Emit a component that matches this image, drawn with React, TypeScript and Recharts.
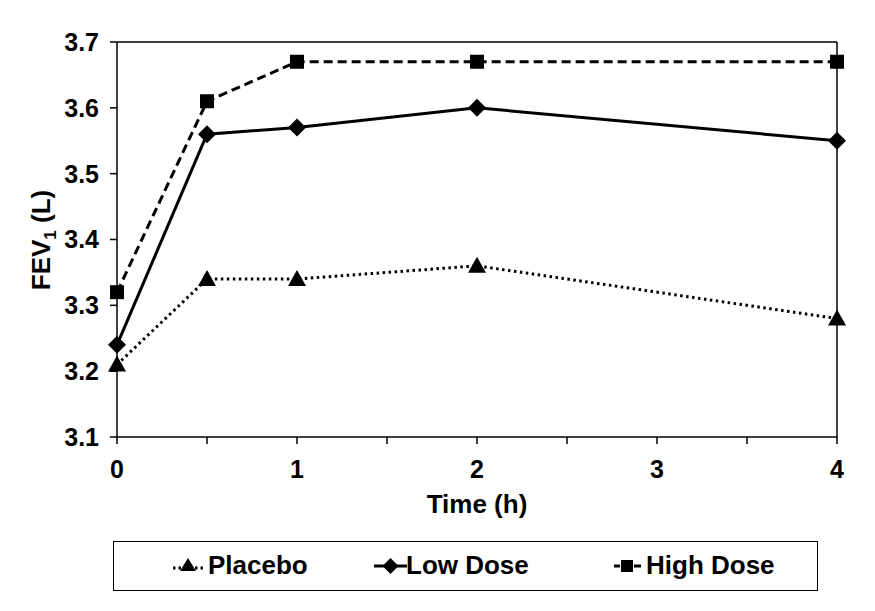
import React from 'react';
import { LineChart, Line, XAxis, YAxis, ReferenceLine, Legend } from 'recharts';

const times = [0, 0.5, 1, 2, 4];
const placebo = [3.21, 3.34, 3.34, 3.36, 3.28];
const lowDose = [3.24, 3.56, 3.57, 3.6, 3.55];
const highDose = [3.32, 3.61, 3.67, 3.67, 3.67];
const xTicks = [0, 0.5, 1, 1.5, 2, 2.5, 3, 3.5, 4];
const yTicks = [3.1, 3.2, 3.3, 3.4, 3.5, 3.6, 3.7];
const seriesNames = ['Placebo', 'Low Dose', 'High Dose'];

const data = times.map((t, i) => ({ t, placebo: placebo[i], low: lowDose[i], high: highDose[i] }));

const FONT = '"Liberation Sans", Arial, sans-serif';

const Triangle = (props: any) => {
  const { cx, cy } = props;
  if (cx == null || cy == null) return null;
  return <polygon points={`${cx},${cy - 9} ${cx - 9},${cy + 7} ${cx + 9},${cy + 7}`} fill="#000" />;
};
const Diamond = (props: any) => {
  const { cx, cy } = props;
  if (cx == null || cy == null) return null;
  return <polygon points={`${cx},${cy - 9} ${cx + 9},${cy} ${cx},${cy + 9} ${cx - 9},${cy}`} fill="#000" />;
};
const Square = (props: any) => {
  const { cx, cy } = props;
  if (cx == null || cy == null) return null;
  return <rect x={cx - 7} y={cy - 7} width={14} height={14} fill="#000" />;
};

const LegendContent = () => (
  <div
    style={{
      width: 705,
      height: 50,
      border: '1.5px solid #000',
      boxSizing: 'border-box',
      fontFamily: FONT,
      fontWeight: 'bold',
      fontSize: 26,
      lineHeight: '30px',
      color: '#000',
      position: 'relative',
    }}
  >
    <svg width={32} height={30} style={{ position: 'absolute', left: 58, top: 8 }}>
      <line x1={1} y1={18} x2={31} y2={18} stroke="#000" strokeWidth={3} strokeDasharray="2.5 3" />
      <polygon points="16,8 8,21 24,21" fill="#000" />
    </svg>
    <span style={{ position: 'absolute', left: 94, top: 8 }}>{seriesNames[0]}</span>
    <svg width={36} height={30} style={{ position: 'absolute', left: 259, top: 8 }}>
      <line x1={1} y1={16} x2={34} y2={16} stroke="#000" strokeWidth={3} />
      <polygon points="17.5,8 25.5,16 17.5,24 9.5,16" fill="#000" />
    </svg>
    <span style={{ position: 'absolute', left: 292, top: 8 }}>{seriesNames[1]}</span>
    <svg width={30} height={30} style={{ position: 'absolute', left: 499, top: 8 }}>
      <line x1={1} y1={16} x2={7} y2={16} stroke="#000" strokeWidth={3} />
      <rect x={8} y={10} width={12} height={12} fill="#000" />
      <line x1={21} y1={16} x2={28} y2={16} stroke="#000" strokeWidth={3} />
    </svg>
    <span style={{ position: 'absolute', left: 532, top: 8 }}>{seriesNames[2]}</span>
  </div>
);

const YTitle = () => {
  return (
    <text
      x={50}
      y={240}
      transform="rotate(-90 50 240)"
      textAnchor="middle"
      fontFamily={FONT}
      fontWeight="bold"
      fontSize={26}
      fill="#000"
    >
      FEV
      <tspan fontSize={17} dy={6}>1</tspan>
      <tspan dy={-6}> (L)</tspan>
    </text>
  );
};

export default function App() {
  return (
    <div style={{ position: 'absolute', left: 0, top: 0, background: '#fff' }}>
      <LineChart width={875} height={611} data={data} margin={{ top: 42, right: 38, left: 0, bottom: 0 }}>
        <XAxis
          dataKey="t"
          type="number"
          domain={[0, 4]}
          ticks={xTicks}
          tickFormatter={(v: number) => (Number.isInteger(v) ? String(v) : '')}
          height={174}
          tickSize={7}
          tickMargin={16}
          axisLine={{ stroke: '#000', strokeWidth: 1.5 }}
          tickLine={{ stroke: '#000', strokeWidth: 1.5 }}
          tick={{ fill: '#000', fontFamily: FONT, fontWeight: 'bold', fontSize: 25 }}
          label={{
            value: 'Time (h)',
            position: 'insideTop',
            offset: 58,
            fill: '#000',
            fontFamily: FONT,
            fontWeight: 'bold',
            fontSize: 26,
          }}
        />
        <YAxis
          type="number"
          domain={[3.1, 3.7]}
          ticks={yTicks}
          tickFormatter={(v: number) => v.toFixed(1)}
          width={117}
          tickSize={7}
          tickMargin={11}
          axisLine={{ stroke: '#000', strokeWidth: 1.5 }}
          tickLine={{ stroke: '#000', strokeWidth: 1.5 }}
          tick={{ fill: '#000', fontFamily: FONT, fontWeight: 'bold', fontSize: 25 }}
          label={{ content: <YTitle /> }}
        />
        <ReferenceLine y={3.7} stroke="#000" strokeWidth={1.5} />
        <ReferenceLine x={4} stroke="#000" strokeWidth={1.5} />
        <Legend
          verticalAlign="middle"
          align="center"
          layout="horizontal"
          wrapperStyle={{ top: 541, left: 113, width: 705, height: 50 }}
          content={<LegendContent />}
        />
        <Line
          dataKey="placebo"
          name={seriesNames[0]}
          stroke="#000"
          strokeWidth={3}
          strokeDasharray="2.5 3.5"
          dot={<Triangle />}
          activeDot={false}
          isAnimationActive={false}
        />
        <Line
          dataKey="low"
          name={seriesNames[1]}
          stroke="#000"
          strokeWidth={3}
          dot={<Diamond />}
          activeDot={false}
          isAnimationActive={false}
        />
        <Line
          dataKey="high"
          name={seriesNames[2]}
          stroke="#000"
          strokeWidth={3}
          strokeDasharray="9 5"
          dot={<Square />}
          activeDot={false}
          isAnimationActive={false}
        />
      </LineChart>
    </div>
  );
}
